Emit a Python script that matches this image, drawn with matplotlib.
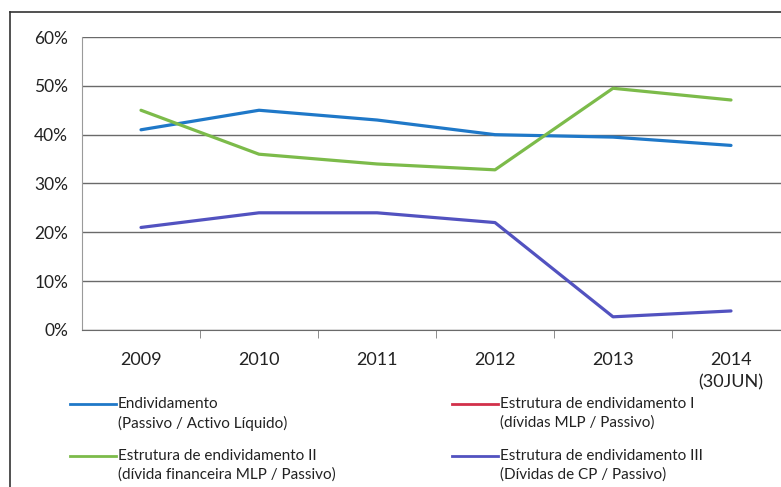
import matplotlib.pyplot as plt
from matplotlib.lines import Line2D
import numpy as np

plt.rcParams['font.family'] = ['Lato', 'DejaVu Sans']

# dados (fracção do passivo / activo)
anos = ['2009', '2010', '2011', '2012', '2013', '2014\n(30JUN)']
endividamento = [0.41, 0.45, 0.43, 0.40, 0.395, 0.378]
estrutura_I = [np.nan] * 6
estrutura_II = [0.45, 0.36, 0.34, 0.328, 0.495, 0.471]
estrutura_III = [0.21, 0.24, 0.24, 0.22, 0.027, 0.039]

series = [
    (endividamento, '#1f78c8', 'Endividamento\n(Passivo / Activo Líquido)'),
    (estrutura_I, '#d2304a', 'Estrutura de endividamento I\n(dívidas MLP / Passivo)'),
    (estrutura_II, '#7cbb4a', 'Estrutura de endividamento II\n(dívida financeira MLP / Passivo)'),
    (estrutura_III, '#5252c0', 'Estrutura de endividamento III\n(Dívidas de CP / Passivo)'),
]

fig = plt.figure(figsize=(7.81, 4.87), dpi=100)
ax = fig.add_axes([82 / 781, 1 - 330 / 487, 708 / 781, 293 / 487])

x = np.arange(len(anos))
for vals, cor, nome in series:
    ax.plot(x, vals, color=cor, lw=2.3, solid_capstyle='round')

ax.set_xlim(-0.5, len(anos) - 0.5)
ax.set_ylim(0, 0.6)
ax.set_yticks(np.arange(0, 0.61, 0.1))
ax.set_yticklabels([f'{int(round(v * 100))}%' for v in np.arange(0, 0.61, 0.1)], fontsize=12.5, color='#222222')
ax.yaxis.grid(True, color='#6a6a6a', lw=1.0)
ax.tick_params(axis='y', length=0, pad=10)

# rótulos dos anos ao centro, marcas entre categorias
ax.set_xticks(x)
ax.set_xticklabels(anos, fontsize=13, color='#222222', linespacing=1.5)
ax.tick_params(axis='x', length=0, pad=16)
ax.set_xticks(np.arange(0.5, len(anos) - 0.5, 1), minor=True)
ax.tick_params(axis='x', which='minor', length=6, color='#7a7a7a', direction='out')

for s in ['top', 'right']:
    ax.spines[s].set_visible(False)
ax.spines['left'].set_color('#9a9a9a')
ax.spines['bottom'].set_color('#6a6a6a')

# moldura exterior
fig.add_artist(Line2D([10 / 781, 10 / 781], [0, 1 - 12 / 487], color='#333333', lw=1.2))
fig.add_artist(Line2D([10 / 781, 1], [1 - 12 / 487, 1 - 12 / 487], color='#333333', lw=1.2))

# legenda em duas colunas
posicoes = [(70, 404), (452, 404), (70, 456), (452, 456)]
for (vals, cor, nome), (px, py) in zip(series, posicoes):
    fy = 1 - py / 487
    fig.add_artist(Line2D([px / 781, (px + 46) / 781], [fy, fy], color=cor, lw=2))
    fig.text((px + 48) / 781, fy + 7 / 487, nome, fontsize=11, color='#222222',
             va='top', ha='left', linespacing=1.4)

plt.savefig('out.png', dpi=100)
